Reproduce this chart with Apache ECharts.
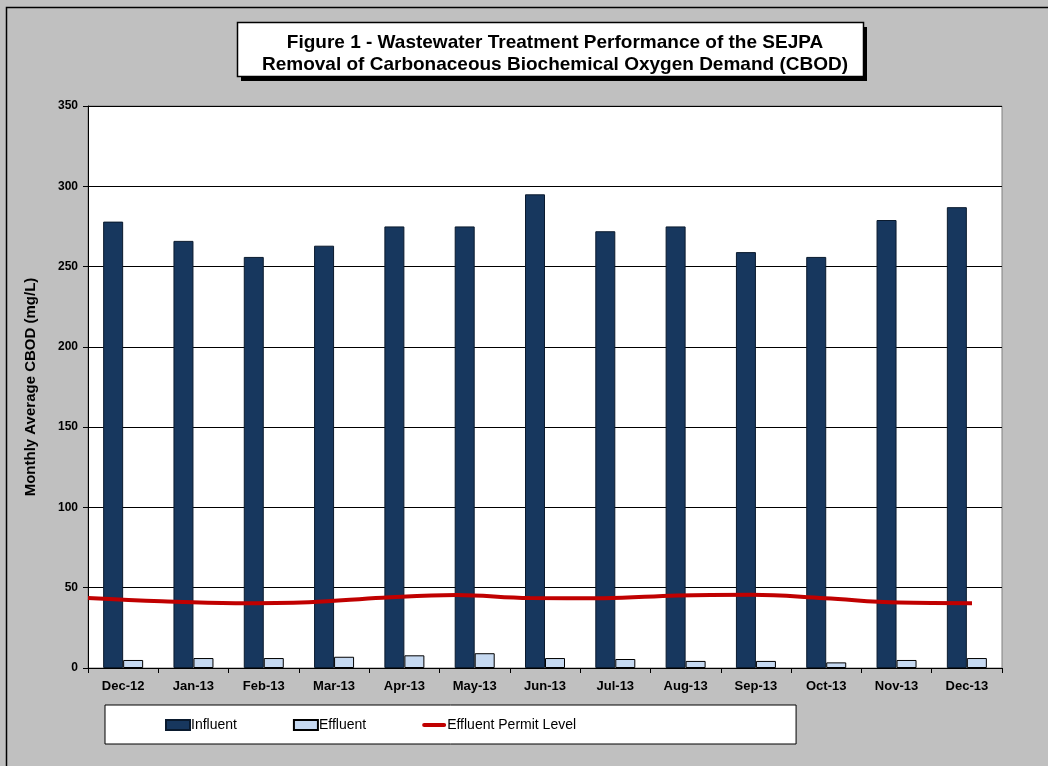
<!DOCTYPE html>
<html>
<head>
<meta charset="utf-8">
<script src="https://cdn.jsdelivr.net/npm/echarts@6/dist/echarts.min.js"></script>
<style>
html,body{margin:0;padding:0;background:#c0c0c0;}
#c{width:1048px;height:766px;}
</style>
</head>
<body>
<div id="c"></div>
<script>
var categories = ['Dec-12','Jan-13','Feb-13','Mar-13','Apr-13','May-13','Jun-13','Jul-13','Aug-13','Sep-13','Oct-13','Nov-13','Dec-13'];
var influent = [278, 266, 256, 263, 275, 275, 295, 272, 275, 259, 256, 279, 287];
var effluent = [5, 6.2, 6.2, 7, 7.9, 9.2, 6.2, 5.6, 4.4, 4.4, 3.5, 5, 6.2];
var permit = [43.6, 41.5, 40.4, 41, 43.8, 45.5, 43.6, 43.5, 45.2, 45.6, 43.5, 40.8, 40.4];
var yTicks = {min: 0, max: 350, interval: 50};

var chart = echarts.init(document.getElementById('c'), null, {renderer: 'canvas'});
var font = 'Liberation Sans, Arial, sans-serif';
chart.setOption({
  backgroundColor: '#c0c0c0',
  animation: false,
  textStyle: {fontFamily: font},
  graphic: [
    {type: 'rect', shape: {x: 6.5, y: 7.5, width: 1100, height: 800}, style: {fill: 'none', stroke: '#000', lineWidth: 1.5}, z: 0},
    {type: 'rect', shape: {x: 241, y: 27, width: 626, height: 54}, style: {fill: '#000'}, z: 1},
    {type: 'rect', shape: {x: 237.5, y: 22.5, width: 626, height: 54}, style: {fill: '#fff', stroke: '#000', lineWidth: 1.5}, z: 2}
  ],
  title: {
    text: 'Figure 1 - Wastewater Treatment Performance of the SEJPA\nRemoval of Carbonaceous Biochemical Oxygen Demand (CBOD)',
    left: 550, top: 27, textAlign: 'center',
    textStyle: {fontFamily: font, fontSize: 19, fontWeight: 'bold', color: '#000', lineHeight: 22},
    z: 5
  },
  legend: {
    left: 105, top: 705,
    padding: [13, 220, 12, 60],
    backgroundColor: '#fff', borderColor: '#000', borderWidth: 1,
    itemWidth: 24, itemHeight: 10, itemGap: 56,
    textStyle: {fontFamily: font, fontSize: 14, color: '#000', padding: [0, 0, 0, -4]},
    data: [
      {name: 'Influent', icon: 'rect'},
      {name: 'Effluent', icon: 'rect'},
      {name: 'Effluent Permit Level', icon: 'path://M2,0 L22,0 A2,2 0 0 1 22,4 L2,4 A2,2 0 0 1 2,0 Z'}
    ]
  },
  grid: [
    {left: 88, right: 46, top: 106, bottom: 98, show: true, backgroundColor: '#fff', borderColor: '#808080', borderWidth: 1},
    {left: 88, right: 76, top: 106, bottom: 98}
  ],
  xAxis: [
    {
      type: 'category', gridIndex: 0, data: categories, boundaryGap: true,
      axisLine: {lineStyle: {color: '#000', width: 1}},
      axisTick: {show: true, length: 5, lineStyle: {color: '#000'}},
      axisLabel: {fontFamily: font, fontSize: 13, fontWeight: 'bold', color: '#000', margin: 12, interval: 0}
    },
    {
      type: 'category', gridIndex: 1, data: categories, boundaryGap: false, show: false
    }
  ],
  yAxis: [
    {
      type: 'value', gridIndex: 0, min: yTicks.min, max: yTicks.max, interval: yTicks.interval,
      name: 'Monthly Average CBOD (mg/L)', nameLocation: 'middle', nameGap: 50, nameRotate: 90,
      nameTextStyle: {fontFamily: font, fontSize: 15, fontWeight: 'bold', color: '#000'},
      axisLine: {show: true, lineStyle: {color: '#000'}},
      axisTick: {show: true, length: 5, lineStyle: {color: '#000'}},
      axisLabel: {fontFamily: font, fontSize: 12, fontWeight: 'bold', color: '#000', margin: 10},
      splitLine: {show: true, lineStyle: {color: '#000', width: 1}}
    },
    {
      type: 'value', gridIndex: 1, min: yTicks.min, max: yTicks.max, show: false, splitLine: {show: false}
    }
  ],
  series: [
    {
      name: 'Influent', type: 'bar', xAxisIndex: 0, yAxisIndex: 0, data: influent,
      barWidth: 20, barGap: '0%',
      itemStyle: {color: '#17375e', borderColor: '#0a1a2e', borderWidth: 1}
    },
    {
      name: 'Effluent', type: 'bar', xAxisIndex: 0, yAxisIndex: 0, data: effluent,
      barWidth: 20,
      itemStyle: {color: '#c6d9f1', borderColor: '#000', borderWidth: 1}
    },
    {
      name: 'Effluent Permit Level', type: 'line', xAxisIndex: 1, yAxisIndex: 1, data: permit,
      smooth: 0.4, symbol: 'none', showSymbol: false,
      lineStyle: {color: '#c00000', width: 4},
      itemStyle: {color: '#c00000'},
      z: 10
    }
  ]
});
</script>
</body>
</html>
